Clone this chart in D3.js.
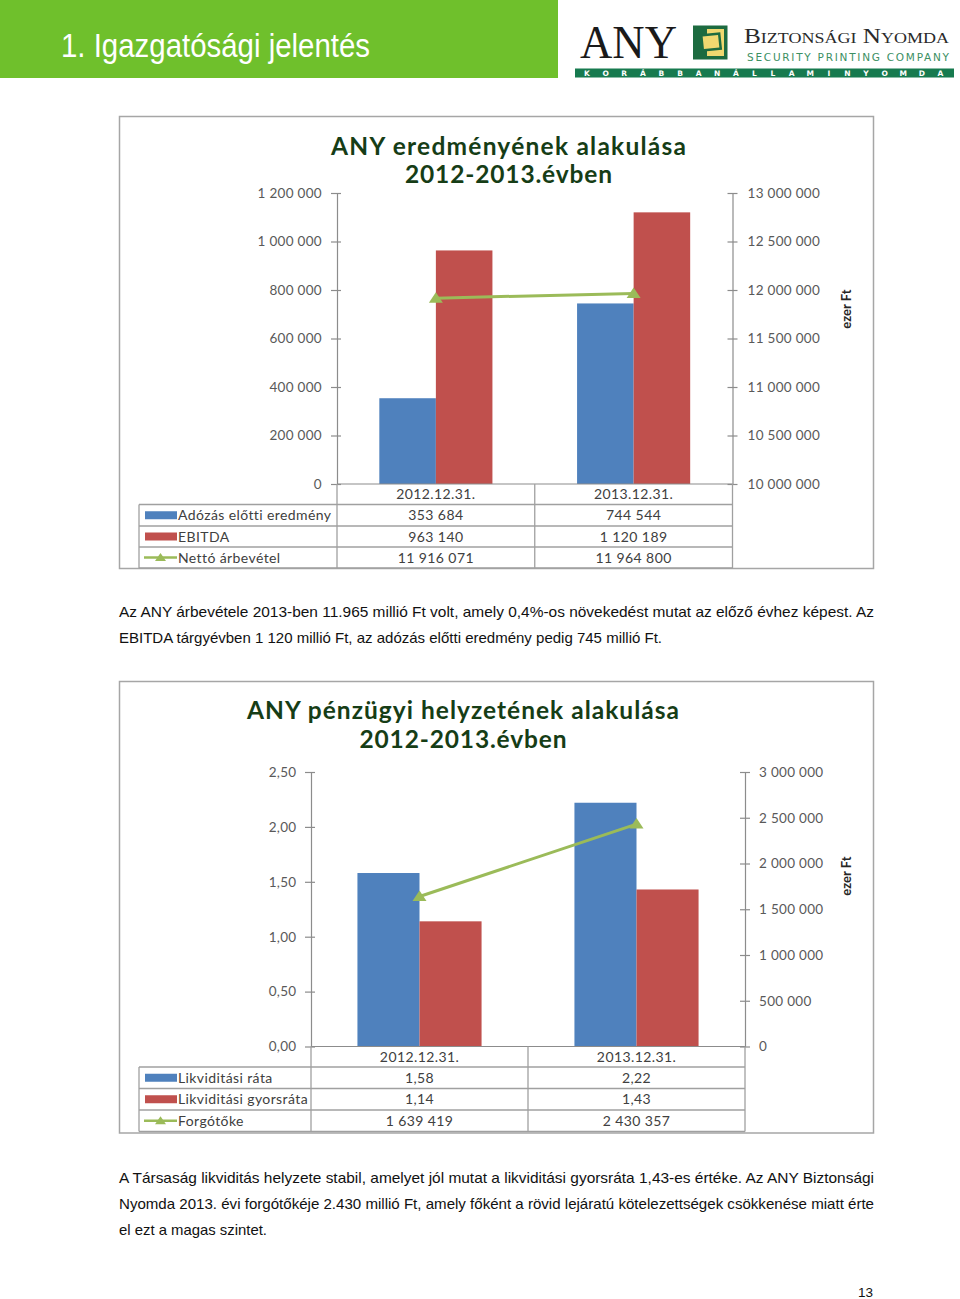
<!DOCTYPE html>
<html><head><meta charset="utf-8">
<script src="https://cdn.jsdelivr.net/npm/d3@7"></script>
<style>body{margin:0;background:#fff}svg{display:block}</style>
</head><body>
<svg id="page" width="960" height="1299"></svg>
<script>
// ---------- DATA ----------
const categories = ["2012.12.31.", "2013.12.31."];

const c1Title = ["ANY eredményének alakulása", "2012-2013.évben"];
const c1SeriesNames = ["Adózás előtti eredmény", "EBITDA", "Nettó árbevétel"];
const c1Adozas = [353684, 744544];
const c1Ebitda = [963140, 1120189];
const c1Arbevetel = [11916071, 11964800];
const c1LeftTicks = [0, 200000, 400000, 600000, 800000, 1000000, 1200000];
const c1RightTicks = [10000000, 10500000, 11000000, 11500000, 12000000, 12500000, 13000000];

const c2Title = ["ANY pénzügyi helyzetének alakulása", "2012-2013.évben"];
const c2SeriesNames = ["Likviditási ráta", "Likviditási gyorsráta", "Forgótőke"];
const c2Rata = [1.58, 2.22];
const c2Gyors = [1.14, 1.43];
const c2Forgo = [1639419, 2430357];
const c2LeftTicks = [0, 0.5, 1, 1.5, 2, 2.5];
const c2RightTicks = [0, 500000, 1000000, 1500000, 2000000, 2500000, 3000000];

const unitLabel = "ezer Ft";
const headerTitle = "1. Igazgatósági jelentés";
const para1 = ["Az ANY árbevétele 2013-ben 11.965 millió Ft volt, amely 0,4%-os növekedést mutat az előző évhez képest. Az",
               "EBITDA tárgyévben 1 120 millió Ft, az adózás előtti eredmény pedig 745 millió Ft."];
const para2 = ["A Társaság likviditás helyzete stabil, amelyet jól mutat a likviditási gyorsráta 1,43-es értéke. Az ANY Biztonsági",
               "Nyomda 2013. évi forgótőkéje 2.430 millió Ft, amely főként a rövid lejáratú kötelezettségek csökkenése miatt érte",
               "el ezt a magas szintet."];
const pageNumber = "13";

// ---------- HELPERS ----------
const hu = d3.formatLocale({decimal: ",", thousands: "\u00a0", grouping: [3], currency: ["", ""]});
const fmtInt = hu.format(",.0f");
const fmt2 = hu.format(",.2f");
const COL = {blue: "#4f81bd", red: "#c0504d", green: "#9bbb59", title: "#163d16", tick: "#595959", grid: "#a0a0a0", text: "#404040"};
const FONT = "Lato, 'Open Sans', sans-serif";

const svg = d3.select("#page");

// ---------- HEADER ----------
svg.append("rect").attr("x", 0).attr("y", 0).attr("width", 558).attr("height", 78).attr("fill", "#6fc02c");
svg.append("text").attr("x", 61).attr("y", 57).attr("fill", "#fff")
  .attr("font-family", "'Liberation Sans Narrow','Arial Narrow','Liberation Sans',Arial,sans-serif")
  .attr("font-size", 34).attr("textLength", 309).attr("lengthAdjust", "spacingAndGlyphs")
  .text(headerTitle);

// Logo
const logo = svg.append("g");
logo.append("text").attr("x", 580).attr("y", 58).attr("font-family", "'Liberation Serif','Times New Roman',serif")
  .attr("font-size", 46).attr("fill", "#1a1a1a").attr("textLength", 97).attr("lengthAdjust", "spacingAndGlyphs").text("ANY");
logo.append("rect").attr("x", 693).attr("y", 25.5).attr("width", 34.5).attr("height", 34).attr("fill", "#1d6b40");
logo.append("rect").attr("x", 707).attr("y", 29).attr("width", 17).attr("height", 27).attr("fill", "#f0d870");
logo.append("rect").attr("x", 702).attr("y", 34.5).attr("width", 18).attr("height", 15).attr("fill", "#f0d870")
  .attr("stroke", "#1d6b40").attr("stroke-width", 2.5).attr("transform", "rotate(-6 711 42)");
logo.append("text").attr("x", 744).attr("y", 43).attr("font-family", "'Liberation Serif','Times New Roman',serif")
  .attr("font-size", 21).attr("fill", "#2a2a2a").style("font-variant", "small-caps")
  .attr("textLength", 205).attr("lengthAdjust", "spacingAndGlyphs").text("Biztonsági Nyomda");
logo.append("text").attr("x", 747).attr("y", 60.5).attr("font-family", "'DejaVu Sans',sans-serif")
  .attr("font-size", 10.5).attr("fill", "#3b8f62")
  .attr("textLength", 202).attr("lengthAdjust", "spacing").text("SECURITY PRINTING COMPANY");
logo.append("rect").attr("x", 575).attr("y", 68.5).attr("width", 379).attr("height", 9).attr("fill", "#177a4f");
const barLetters = "KORÁBBANÁLLAMINYOMDA".split("");
logo.selectAll("text.bl").data(barLetters).join("text").attr("class", "bl")
  .attr("x", (d, i) => 587 + i * 18.6).attr("y", 76.3).attr("text-anchor", "middle")
  .attr("font-family", "'DejaVu Sans',sans-serif").attr("font-weight", "bold").attr("font-size", 7.5).attr("fill", "#fff")
  .text(d => d);

// ---------- CHART ----------
function drawChart(o) {
  const g = svg.append("g");
  g.append("rect").attr("x", o.frame[0]).attr("y", o.frame[1]).attr("width", o.frame[2]).attr("height", o.frame[3])
    .attr("fill", "#fff").attr("stroke", "#a6a6a6").attr("stroke-width", 1.5);
  o.title.forEach((t, i) => {
    g.append("text").attr("x", o.titleX - o.titleW[i] / 2).attr("y", o.titleY[i])
      .attr("font-family", FONT).attr("font-weight", "bold").attr("font-size", 24.5).attr("fill", COL.title)
      .attr("textLength", o.titleW[i]).attr("lengthAdjust", "spacing").text(t);
  });

  const yL = d3.scaleLinear().domain(o.leftDomain).range([o.yZero, o.yTop]);
  const yR = d3.scaleLinear().domain(o.rightDomain).range([o.yZero, o.yTop]);
  const x = d3.scaleBand().domain(categories).range([o.axisL, o.axisR]);
  const bw = x.bandwidth();
  const x1 = d3.scaleBand().domain([0, 1]).range([-0.286 * bw, 0.286 * bw]);
  const cx = c => x(c) + bw / 2;

  const bars = [o.blue, o.red];
  const colors = [COL.blue, COL.red];
  bars.forEach((vals, si) => {
    g.selectAll(null).data(categories).join("rect")
      .attr("x", c => cx(c) + x1(si)).attr("width", x1.bandwidth())
      .attr("y", (c, i) => yL(vals[i])).attr("height", (c, i) => o.yZero - yL(vals[i]))
      .attr("fill", colors[si]);
  });

  const la = g.append("g").attr("transform", `translate(${o.axisL},0)`)
    .call(d3.axisLeft(yL).tickValues(o.leftTicks).tickFormat(o.leftFmt).tickSizeInner(6).tickSizeOuter(0).tickPadding(o.padL));
  const ra = g.append("g").attr("transform", `translate(${o.axisR},0)`)
    .call(d3.axisRight(yR).tickValues(o.rightTicks).tickFormat(o.rightFmt).tickSizeInner(6).tickSizeOuter(0).tickPadding(o.padR));
  [la, ra].forEach(a => {
    a.select(".domain").attr("stroke", "#8c8c8c").attr("stroke-width", 1.2);
    a.selectAll(".tick line").attr("stroke", "#8c8c8c").attr("stroke-width", 1.2);
    a.selectAll(".tick text").attr("font-family", FONT).attr("font-size", 13.5).attr("letter-spacing", 0.3).attr("fill", COL.tick);
  });
  la.selectAll(".tick line").attr("x1", 4).attr("x2", -6);
  ra.selectAll(".tick line").attr("x1", -5).attr("x2", 5);

  g.append("line").attr("x1", o.axisL).attr("x2", o.axisR).attr("y1", o.yZero).attr("y2", o.yZero)
    .attr("stroke", "#8c8c8c").attr("stroke-width", 1.2);

  const tri = "M0,-6L7,4.5L-7,4.5Z";
  const line = d3.line().x((d, i) => cx(categories[i])).y(d => yR(d));
  g.append("path").attr("d", line(o.line)).attr("fill", "none").attr("stroke", COL.green).attr("stroke-width", 3);
  g.selectAll(null).data(o.line).join("path").attr("d", tri)
    .attr("transform", (d, i) => `translate(${cx(categories[i])},${yR(d)})`).attr("fill", COL.green);

  g.append("text").attr("transform", `translate(${o.unitX},${o.unitY}) rotate(-90)`).attr("text-anchor", "middle")
    .attr("font-family", FONT).attr("font-weight", "bold").attr("font-size", 13).attr("fill", "#262626").text(unitLabel);

  const rows = o.rows;
  const bottom = rows[3];
  const gl = g.append("g").attr("stroke", COL.grid).attr("stroke-width", 1.3);
  rows.forEach(r => gl.append("line").attr("x1", o.legendX).attr("x2", o.axisR).attr("y1", r).attr("y2", r));
  gl.append("line").attr("x1", o.legendX).attr("x2", o.legendX).attr("y1", rows[0]).attr("y2", bottom);
  [o.axisL, x(categories[1]), o.axisR].forEach(vx =>
    gl.append("line").attr("x1", vx).attr("x2", vx).attr("y1", o.yZero).attr("y2", bottom));

  const tfs = 14, tls = 0.4;
  g.selectAll(null).data(categories).join("text").attr("x", c => cx(c)).attr("y", (o.yZero + rows[0]) / 2)
    .attr("dy", "0.36em").attr("text-anchor", "middle").attr("font-family", FONT).attr("font-size", tfs)
    .attr("letter-spacing", tls).attr("fill", COL.text).text(c => c);

  const series = [o.blue, o.red, o.line];
  series.forEach((vals, si) => {
    const yc = (rows[si] + rows[si + 1]) / 2;
    if (si < 2) {
      g.append("rect").attr("x", o.legendX + 6).attr("y", yc - 4).attr("width", 32).attr("height", 8).attr("fill", colors[si]);
    } else {
      g.append("line").attr("x1", o.legendX + 5).attr("x2", o.legendX + 38).attr("y1", yc).attr("y2", yc)
        .attr("stroke", COL.green).attr("stroke-width", 2.5);
      g.append("path").attr("d", "M0,-4.5L5.5,3.5L-5.5,3.5Z").attr("transform", `translate(${o.legendX + 21.5},${yc})`).attr("fill", COL.green);
    }
    g.append("text").attr("x", o.legendX + 39).attr("y", yc).attr("dy", "0.36em")
      .attr("font-family", FONT).attr("font-size", tfs).attr("letter-spacing", tls).attr("fill", COL.text).text(o.names[si]);
    g.selectAll(null).data(vals).join("text").attr("x", (d, i) => cx(categories[i])).attr("y", yc).attr("dy", "0.36em")
      .attr("text-anchor", "middle").attr("font-family", FONT).attr("font-size", tfs).attr("letter-spacing", tls)
      .attr("fill", COL.text).text(d => o.valFmt[si](d));
  });
}

drawChart({
  frame: [119.5, 116.5, 754, 452], title: c1Title, titleX: 508.5, titleY: [155, 183], titleW: [355, 207],
  leftDomain: [0, 1200000], rightDomain: [10000000, 13000000], yTop: 193, yZero: 484,
  axisL: 337, axisR: 732.5, leftTicks: c1LeftTicks, rightTicks: c1RightTicks, leftFmt: fmtInt, rightFmt: fmtInt,
  padL: 9, padR: 9, blue: c1Adozas, red: c1Ebitda, line: c1Arbevetel, names: c1SeriesNames,
  valFmt: [fmtInt, fmtInt, fmtInt], unitX: 851, unitY: 309, legendX: 139, rows: [504.5, 526, 547, 568]
});

drawChart({
  frame: [119.5, 681.5, 754, 451.5], title: c2Title, titleX: 463, titleY: [719, 748], titleW: [432, 207],
  leftDomain: [0, 2.5], rightDomain: [0, 3000000], yTop: 772, yZero: 1046.5,
  axisL: 311, axisR: 745, leftTicks: c2LeftTicks, rightTicks: c2RightTicks, leftFmt: fmt2, rightFmt: fmtInt,
  padL: 8.5, padR: 8, blue: c2Rata, red: c2Gyors, line: c2Forgo, names: c2SeriesNames,
  valFmt: [fmt2, fmt2, fmtInt], unitX: 851, unitY: 876, legendX: 139, rows: [1067, 1088.5, 1110, 1131.5]
});

// ---------- PARAGRAPHS ----------
function para(lines, ys, widths) {
  lines.forEach((t, i) => {
    svg.append("text").attr("x", 119).attr("y", ys[i]).attr("font-family", "'Liberation Sans',Arial,sans-serif")
      .attr("font-size", 14.5).attr("fill", "#111").attr("textLength", widths[i]).attr("lengthAdjust", "spacingAndGlyphs")
      .text(t);
  });
}
para(para1, [617, 643], [755, 543]);
para(para2, [1183, 1209, 1235], [755, 755, 148]);

svg.append("text").attr("x", 873).attr("y", 1296.5).attr("text-anchor", "end")
  .attr("font-family", "'Liberation Sans',Arial,sans-serif").attr("font-size", 13.5).attr("fill", "#111").text(pageNumber);
</script>
</body></html>
